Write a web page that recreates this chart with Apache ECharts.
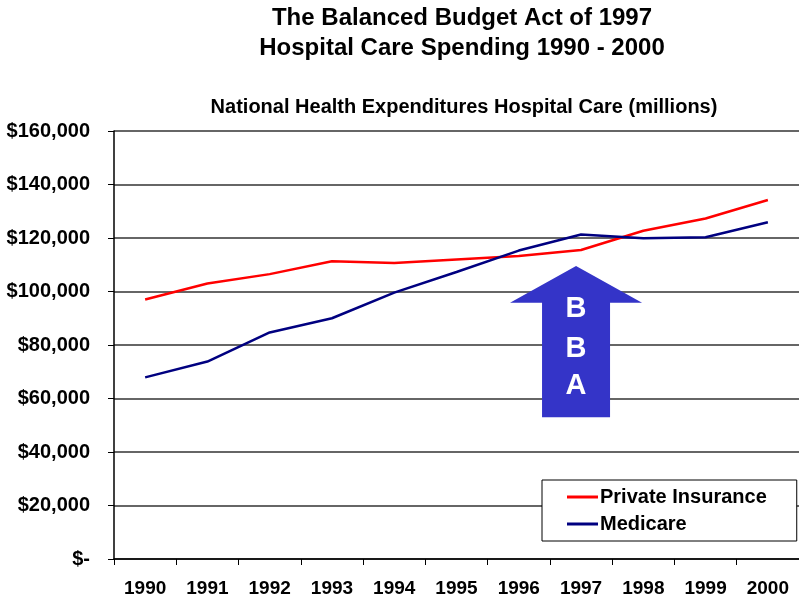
<!DOCTYPE html>
<html>
<head>
<meta charset="utf-8">
<script src="https://cdn.jsdelivr.net/npm/echarts@6/dist/echarts.min.js"></script>
<style>
  html, body { margin: 0; padding: 0; background: #fff; }
  #chart { width: 799px; height: 604px; }
</style>
</head>
<body>
<div id="chart"></div>
<script>
// Hospital care spending, millions of dollars
const years = ['1990', '1991', '1992', '1993', '1994', '1995', '1996', '1997', '1998', '1999', '2000'];
const privateInsurance = [97000, 103000, 106500, 111300, 110700, 112000, 113300, 115500, 122700, 127300, 134200];
const medicare = [67900, 73800, 84700, 90000, 99600, 107300, 115300, 121300, 119900, 120300, 125900];
const yTicks = [0, 20000, 40000, 60000, 80000, 100000, 120000, 140000, 160000];
const arrowLetters = ['B', 'B', 'A'];

const FONT = '"Liberation Sans", Arial, sans-serif';
const chart = echarts.init(document.getElementById('chart'));

function money(v) {
  if (v === 0) return '$-';
  return '$' + v.toString().replace(/\B(?=(\d{3})+(?!\d))/g, ',');
}

chart.setOption({
  animation: false,
  backgroundColor: '#ffffff',
  title: [
    {
      text: 'The Balanced Budget Act of 1997\nHospital Care Spending 1990 - 2000',
      left: 457, top: -2, textAlign: 'center',
      textStyle: { fontFamily: FONT, fontWeight: 'bold', fontSize: 24, lineHeight: 30, color: '#000' }
    },
    {
      text: 'National Health Expenditures Hospital Care (millions)',
      left: 459, top: 92, textAlign: 'center',
      textStyle: { fontFamily: FONT, fontWeight: 'bold', fontSize: 20, color: '#000' }
    }
  ],
  legend: {
    orient: 'vertical',
    left: 542, top: 480,
    padding: [7, 30, 7, 25],
    itemGap: 7,
    itemWidth: 31, itemHeight: 3,
    icon: 'rect',
    borderColor: '#000', borderWidth: 1,
    backgroundColor: '#fff',
    textStyle: { fontFamily: FONT, fontWeight: 'bold', fontSize: 20, color: '#000', padding: [0, 0, 0, -3] },
    data: ['Private Insurance', 'Medicare']
  },
  grid: { left: 114, right: 0, top: 131, bottom: 45, containLabel: false },
  xAxis: {
    type: 'category',
    data: years,
    boundaryGap: true,
    axisLine: { lineStyle: { color: '#000', width: 1.5 } },
    axisTick: { show: true, length: 6, lineStyle: { color: '#000' } },
    axisLabel: { fontFamily: FONT, fontWeight: 'bold', fontSize: 19, color: '#000', margin: 20 }
  },
  yAxis: {
    type: 'value',
    min: yTicks[0], max: yTicks[yTicks.length - 1], interval: 20000,
    axisLine: { show: true, lineStyle: { color: '#000', width: 1.5 } },
    axisTick: { show: true, length: 6, lineStyle: { color: '#000' } },
    splitLine: { show: true, lineStyle: { color: '#333', width: 1.5 } },
    axisLabel: { fontFamily: FONT, fontWeight: 'bold', fontSize: 20, color: '#000', margin: 24, formatter: money }
  },
  series: [
    {
      name: 'Private Insurance', type: 'line', data: privateInsurance,
      symbol: 'none', color: '#ff0000',
      lineStyle: { color: '#ff0000', width: 2.5 }, z: 3
    },
    {
      name: 'Medicare', type: 'line', data: medicare,
      symbol: 'none', color: '#000080',
      lineStyle: { color: '#000080', width: 2.5 }, z: 4
    }
  ]
});

// "BBA" arrow placed in data space at the 1997 category
function drawArrow() {
  const cx = chart.convertToPixel({ xAxisIndex: 0 }, '1997') - 5;
  const tip = chart.convertToPixel({ yAxisIndex: 0 }, 109500);
  const shoulder = chart.convertToPixel({ yAxisIndex: 0 }, 95800);
  const bottom = chart.convertToPixel({ yAxisIndex: 0 }, 53000);
  const hw = 66, sw = 34;
  const letterValues = [93500, 78500, 64700];
  const graphics = [{
    type: 'polygon', z: 10,
    shape: { points: [[cx, tip], [cx + hw, shoulder], [cx + sw, shoulder], [cx + sw, bottom], [cx - sw, bottom], [cx - sw, shoulder], [cx - hw, shoulder]] },
    style: { fill: '#3434c8' }
  }];
  arrowLetters.forEach(function (ch, i) {
    graphics.push({
      type: 'text', z: 11,
      x: cx, y: chart.convertToPixel({ yAxisIndex: 0 }, letterValues[i]),
      style: { text: ch, fill: '#fff', font: 'bold 29px ' + FONT, align: 'center', verticalAlign: 'middle' }
    });
  });
  chart.setOption({ graphic: graphics });
}
drawArrow();
</script>
</body>
</html>
